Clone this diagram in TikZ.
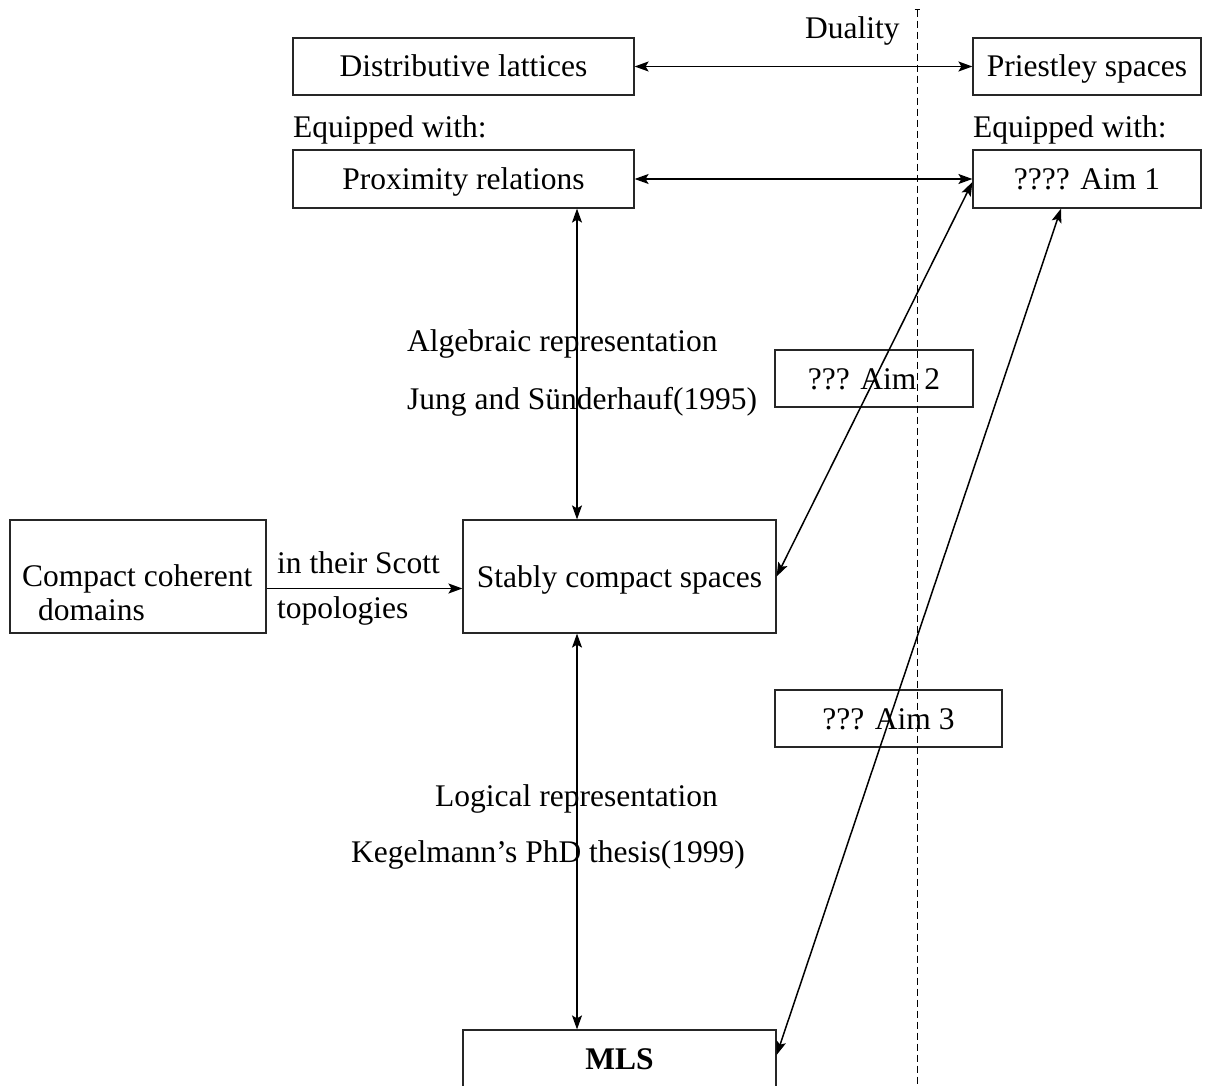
\documentclass[tikz,border=0pt]{standalone}
\usepackage{fontspec}
\setmainfont{Liberation Serif}
\usetikzlibrary{arrows.meta}
\tikzset{
  every node/.style={font=\fontsize{31.5}{34}\selectfont},
  box/.style={draw=black!85, line width=1.2pt, inner sep=0pt, text height=21pt, text depth=0pt},
  lbl/.style={anchor=base west, inner sep=0pt},
  conn/.style={line width=1.5pt, {Stealth[length=14pt,width=10pt,inset=3pt]}-{Stealth[length=14pt,width=10pt,inset=3pt]}},
  conn1/.style={line width=1.5pt, -{Stealth[length=14pt,width=10pt,inset=3pt]}},
}
\begin{document}
\begin{tikzpicture}[x=1pt,y=-1pt]
\useasboundingbox (0,0) rectangle (1207,1086);
% boxes
\node[box, minimum width=341pt, minimum height=57pt] (dl) at (463.5,66.5) {Distributive lattices};
\node[box, minimum width=228pt, minimum height=57pt] (ps) at (1087,66.5) {Priestley spaces};
\node[box, minimum width=341pt, minimum height=58pt] (pr) at (463.5,179) {Proximity relations};
\node[box, minimum width=228pt, minimum height=58pt] (aim1) at (1087,179) {???? Aim 1};
\node[box, minimum width=198pt, minimum height=57pt] (aim2) at (874,378.5) {??? Aim 2};
\node[box, minimum width=256pt, minimum height=113pt] (ccd) at (138,576.5) {};
\node[lbl] (ccdt1) at (22,586) {Compact coherent};
\node[lbl] (ccdt2) at (38,620) {domains};
\node[box, minimum width=313pt, minimum height=113pt] (scs) at (619.5,576.5) {Stably compact spaces};
\node[box, minimum width=227pt, minimum height=57pt] (aim3) at (888.5,718.5) {??? Aim 3};
\node[box, minimum width=313pt, minimum height=58pt] (mls) at (619.5,1059) {\bfseries MLS};
% labels
\node[lbl] (dual) at (805,39) {Duality};
\node[lbl] (eq1) at (293,138) {Equipped with:};
\node[lbl] (eq2) at (973,138) {Equipped with:};
\node[lbl] (alg) at (407,351) {Algebraic representation};
\node[lbl] (jung) at (407,409) {Jung and Sünderhauf(1995)};
\node[lbl] (scott) at (277,573) {in their Scott};
\node[lbl] (topo) at (277,618) {topologies};
\node[lbl] (logi) at (435,806) {Logical representation};
\node[lbl] (keg) at (351,862) {Kegelmann's PhD thesis(1999)};
% duality line
\coordinate (dtop) at (917,9);
\coordinate (dbot) at (917,1086);
\draw[line width=1pt, dash pattern=on 7pt off 4pt, {Bar[width=5pt,line width=0.8pt]}-] (dtop) -- (dbot);
% connectors
\coordinate (vx) at (577,0);
\draw[conn] (dl.east) -- (ps.west);
\draw[conn] (pr.east) -- (aim1.west);
\draw[conn] (pr.south -| vx) -- (scs.north -| vx);
\draw[conn] (scs.south -| vx) -- (mls.north -| vx);
\draw[conn1] ([yshift=-12pt]ccd.east) -- ([yshift=-12pt]scs.west);
\draw[conn] ([yshift=-3pt]aim1.west) -- (scs.east);
\draw[conn] ([xshift=-26pt]aim1.south) -- ([yshift=4pt]mls.east);
\end{tikzpicture}
\end{document}
